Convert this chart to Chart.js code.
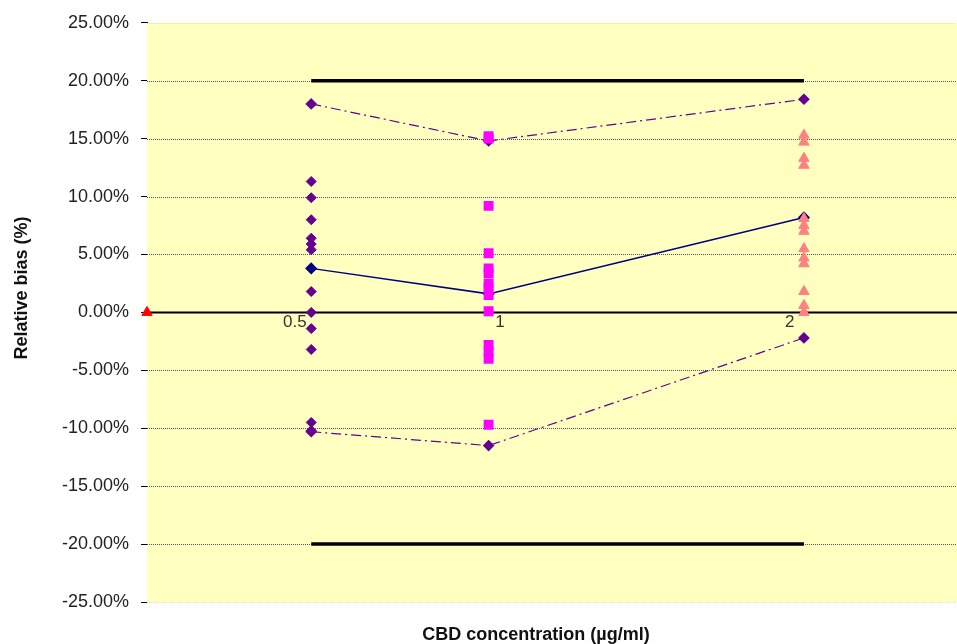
<!DOCTYPE html>
<html>
<head>
<meta charset="utf-8">
<script src="https://cdn.jsdelivr.net/npm/chart.js@4"></script>
<style>
  body { margin: 0; background: #fff; }
  #wrap { width: 957px; height: 644px; }
</style>
</head>
<body>
<div id="wrap"><canvas id="biasChart" width="957" height="644"></canvas></div>
<script>
// concentrations (ug/ml) as placed on the x scale
const xLow = 0.5;
const xMid = 1.04;
const xHigh = 2.0;

// relative bias (%) of each replicate
const lowBias = [11.3, 9.9, 8.0, 6.4, 5.9, 5.4, 1.8, 0.0, -1.4, -3.2, -9.5, -10.2];
const midBias = [15.2, 15.0, 9.2, 5.1, 3.8, 3.4, 2.5, 2.1, 1.5, 0.1, -2.8, -3.4, -4.0, -9.7];
const highBias = [15.3, 14.7, 13.3, 12.7, 8.1, 7.5, 7.0, 5.5, 4.7, 4.2, 1.8, 0.6, 0.0];

// summary lines
const meanBias = [3.8, 1.6, 8.2];
const upperBias = [18.0, 14.8, 18.4];
const lowerBias = [-10.3, -11.5, -2.2];
const acceptLimit = 20;

// labels drawn along the zero line
const xTickLabels = ['0.5', '1', '2'];
const xTickAt = [0.45, 1.075, 1.957];

const xTitle = 'CBD concentration (µg/ml)';
const yTitle = 'Relative bias (%)';

const concs = [xLow, xMid, xHigh];
const pts = (x, arr) => arr.map(v => ({x: x, y: v}));
const line = arr => arr.map((v, i) => ({x: concs[i], y: v}));

const plotDecor = {
    id: 'plotDecor',
    beforeDatasetsDraw(chart) {
        const {ctx, chartArea: a, scales} = chart;
        ctx.save();
        ctx.fillStyle = '#FFFFC0';
        ctx.fillRect(a.left, a.top, a.right - a.left, a.bottom - a.top);
        scales.y.ticks.forEach(t => {
            if (t.value === 0) return;
            const y = Math.round(scales.y.getPixelForValue(t.value)) + 0.5;
            ctx.beginPath();
            ctx.setLineDash([1, 1]);
            ctx.lineWidth = 1;
            ctx.strokeStyle = Math.abs(t.value) >= 25 ? '#e6e2a8' : '#555';
            ctx.moveTo(a.left, y);
            ctx.lineTo(a.right, y);
            ctx.stroke();
        });
        ctx.setLineDash([]);
        const y0 = scales.y.getPixelForValue(0);
        ctx.beginPath();
        ctx.lineWidth = 2;
        ctx.strokeStyle = '#000';
        ctx.moveTo(a.left, y0);
        ctx.lineTo(a.right, y0);
        ctx.stroke();
        ctx.fillStyle = '#333';
        ctx.font = '17px "Liberation Sans", Arial, sans-serif';
        ctx.textAlign = 'center';
        ctx.textBaseline = 'middle';
        xTickLabels.forEach((lab, i) => {
            ctx.fillText(lab, scales.x.getPixelForValue(xTickAt[i]), y0 + 10);
        });
        ctx.restore();
    },
    afterDraw(chart) {
        const ctx = chart.ctx;
        ctx.save();
        ctx.fillStyle = '#111';
        ctx.font = 'bold 18px "Liberation Sans", Arial, sans-serif';
        ctx.textAlign = 'center';
        ctx.textBaseline = 'middle';
        ctx.fillText(xTitle, 536, 635);
        ctx.translate(22, 288);
        ctx.rotate(-Math.PI / 2);
        ctx.fillText(yTitle, 0, 0);
        ctx.restore();
    }
};

const purple = '#66008F';

// earlier datasets are painted on top
new Chart(document.getElementById('biasChart'), {
    type: 'scatter',
    data: {
        datasets: [
            {data: pts(xMid, midBias), pointStyle: 'rect', pointRadius: 7,
             backgroundColor: '#FF00FF', borderColor: '#FF00FF', borderWidth: 0},
            {data: pts(xHigh, highBias), pointStyle: 'triangle', pointRadius: 6,
             backgroundColor: '#FF8080', borderColor: '#FF8080'},
            {data: [{x: 0, y: 0}], pointStyle: 'triangle', pointRadius: 6, clip: false,
             backgroundColor: '#FF0000', borderColor: '#FF0000'},
            {data: line(meanBias), showLine: true, borderColor: '#000080', borderWidth: 1.5,
             pointStyle: 'rectRot', pointRadius: 5, backgroundColor: '#000080', pointBorderColor: '#000080'},
            {data: pts(xLow, lowBias), pointStyle: 'rectRot', pointRadius: 5,
             backgroundColor: purple, borderColor: purple},
            {data: line(upperBias), showLine: true, borderColor: purple, borderWidth: 1.2,
             borderDash: [10, 4, 2, 4], pointStyle: 'rectRot', pointRadius: 5,
             backgroundColor: purple, pointBorderColor: purple},
            {data: line(lowerBias), showLine: true, borderColor: purple, borderWidth: 1.2,
             borderDash: [10, 4, 2, 4], pointStyle: 'rectRot', pointRadius: 5,
             backgroundColor: purple, pointBorderColor: purple},
            {data: [{x: xLow, y: acceptLimit}, {x: xHigh, y: acceptLimit}], showLine: true,
             borderColor: '#000', borderWidth: 3.5, pointRadius: 0},
            {data: [{x: xLow, y: -acceptLimit}, {x: xHigh, y: -acceptLimit}], showLine: true,
             borderColor: '#000', borderWidth: 3.5, pointRadius: 0}
        ]
    },
    options: {
        responsive: false,
        animation: false,
        devicePixelRatio: 1,
        layout: {autoPadding: false, padding: {top: 21, right: 0, left: 0, bottom: 0}},
        plugins: {legend: {display: false}, tooltip: {enabled: false}},
        scales: {
            x: {
                type: 'linear', min: 0, max: 2.466,
                grid: {display: false},
                border: {display: false},
                ticks: {display: false},
                afterFit(s) { s.height = 42; }
            },
            y: {
                min: -25, max: 25,
                grid: {drawOnChartArea: false, drawTicks: true, tickLength: 6, tickColor: '#000'},
                border: {display: true, color: '#000', width: 1},
                ticks: {stepSize: 5, color: '#222', padding: 12,
                        font: {family: '"Liberation Sans", Arial, sans-serif', size: 18},
                        callback: v => v.toFixed(2) + '%'},
                afterFit(s) { s.width = 147; }
            }
        }
    },
    plugins: [plotDecor]
});
</script>
</body>
</html>
